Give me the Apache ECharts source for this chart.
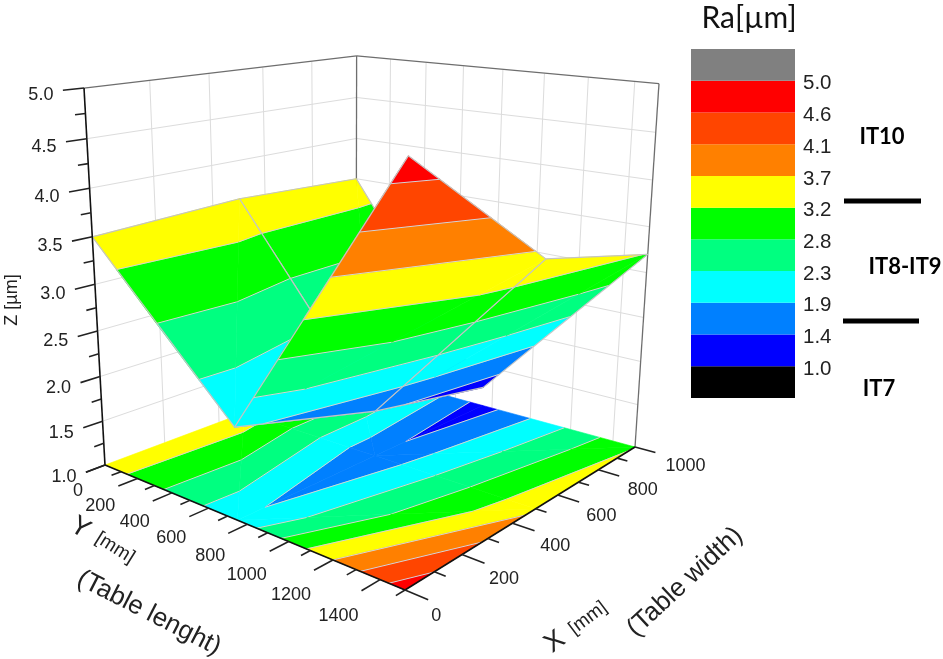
<!DOCTYPE html>
<html><head><meta charset="utf-8">
<style>html,body{margin:0;padding:0;background:#fff}#c{width:943px;height:659px}</style>
<script src="https://cdn.jsdelivr.net/npm/echarts@6/dist/echarts.min.js"></script>
</head><body><div id="c"></div>
<script>
// ---------- data ----------
const xValues = [0, 500, 1000];            // mm, table width
const yValues = [0, 750, 1500];            // mm, table length
const zRow0 = [3.5, 3.57, 3.5];            // Y = 0
const zRow1 = [1.97, 1.52, 1.23];          // Y = 750
const zRow2 = [4.8, 3.56, 3.2];            // Y = 1500
const zRows = [zRow0, zRow1, zRow2];
const bandEdges = [0.556, 1, 1.444, 1.889, 2.333, 2.778, 3.222, 3.667, 4.111, 4.556, 5, 5.444];
const bandColors = ['#000000', '#0000ff', '#0080ff', '#00ffff', '#00ff80', '#00ff00', '#ffff00', '#ff8000', '#ff4500', '#ff0000', '#808080'];
const legendLevels = [1, 1.444, 1.889, 2.333, 2.778, 3.222, 3.667, 4.111, 4.556, 5];
const xMajor = [0, 200, 400, 600, 800, 1000];
const xMinor = [100, 300, 500, 700, 900];
const yMajor = [0, 200, 400, 600, 800, 1000, 1200, 1400];
const yMinor = [100, 300, 500, 700, 900, 1100, 1300, 1500];
const zMajor = [1, 1.5, 2, 2.5, 3, 3.5, 4, 4.5, 5];
const zMinor = [1.25, 1.75, 2.25, 2.75, 3.25, 3.75, 4.25, 4.75];
const xMax = 1000, yMax = 1500, zMin = 1, zMax = 5;

// ---------- camera ----------
const cam = {ox:105, oy:465, ux:339.6, uy:-1.7, vx:214.8, vy:0.86, wx:-27.7, wy:-384, a:0.2488, b:-0.2104, c:-0.0798, sag:12, nearY:15, nearX:3};
function project(X, Y, Z) {
  const u = X / xMax, v = Y / yMax, w = (Z - zMin) / (zMax - zMin);
  const d = 1 + cam.a * u + cam.b * v + cam.c * w;
  return [
    (cam.ox + cam.ux * u + cam.vx * v + cam.wx * w) / d - cam.nearX * (1 - u) * v * w,
    (cam.oy + cam.uy * u + cam.vy * v + cam.wy * w) / d - cam.sag * u * (1 - v) * w + cam.nearY * (1 - u) * v * w
  ];
}

// ---------- contour bands from triangles ----------
function clip(poly, level, keepAbove) {
  const out = [];
  for (let i = 0; i < poly.length; i++) {
    const a = poly[i], b = poly[(i + 1) % poly.length];
    const ia = keepAbove ? a[2] >= level : a[2] <= level;
    const ib = keepAbove ? b[2] >= level : b[2] <= level;
    if (ia) out.push(a);
    if (ia !== ib) {
      const t = (level - a[2]) / (b[2] - a[2]);
      out.push([a[0] + t * (b[0] - a[0]), a[1] + t * (b[1] - a[1]), level]);
    }
  }
  return out;
}
function levelSegment(tri, level) {
  const pts = [];
  for (let i = 0; i < 3; i++) {
    const a = tri[i], b = tri[(i + 1) % 3];
    if ((a[2] < level) !== (b[2] < level)) {
      const t = (level - a[2]) / (b[2] - a[2]);
      pts.push([a[0] + t * (b[0] - a[0]), a[1] + t * (b[1] - a[1]), level]);
    }
  }
  return pts.length === 2 ? pts : null;
}
function triangleMarks(tri, marks) {
  bandColors.forEach((col, k) => {
    let p = clip(tri, bandEdges[k], true);
    if (p.length) p = clip(p, bandEdges[k + 1], false);
    if (p.length >= 3) marks.push({poly: p, color: col});
  });
  legendLevels.forEach(l => {
    const s = levelSegment(tri, l);
    if (s) marks.push({line: s, contour: true});
  });
}
function node(i, j) { return [xValues[i], yValues[j], zRows[j][i]]; }
const surfaceMarks = [], floorMarks = [];
// far cells first; the third entry says which diagonal splits the cell
[[1, 0, 'anti'], [0, 0, 'anti'], [1, 1, 'main'], [0, 1, 'main']].forEach(([i, j, diag]) => {
  const tris = diag === 'anti'
    ? [[node(i, j), node(i + 1, j), node(i, j + 1)], [node(i + 1, j), node(i + 1, j + 1), node(i, j + 1)]]
    : [[node(i, j), node(i + 1, j), node(i + 1, j + 1)], [node(i, j), node(i + 1, j + 1), node(i, j + 1)]];
  tris.forEach(t => { triangleMarks(t, surfaceMarks); triangleMarks(t, floorMarks); });
  surfaceMarks.push({line: [node(i, j), node(i + 1, j)]});
  surfaceMarks.push({line: [node(i, j), node(i, j + 1)]});
  surfaceMarks.push({line: [node(i + 1, j), node(i + 1, j + 1)]});
  surfaceMarks.push({line: [node(i, j + 1), node(i + 1, j + 1)]});
});

// ---------- walls, ticks and labels ----------
const wallLines = [];
xMajor.slice(1, -1).forEach(x => wallLines.push([[x, 0, zMin], [x, 0, zMax]]));
yMajor.slice(1).forEach(y => wallLines.push([[xMax, y, zMin], [xMax, y, zMax]]));
zMajor.slice(1, -1).forEach(z => {
  wallLines.push([[0, 0, z], [xMax, 0, z]]);
  wallLines.push([[xMax, 0, z], [xMax, yMax, z]]);
});
const frameLines = [
  [[0, 0, zMax], [xMax, 0, zMax]], [[xMax, 0, zMax], [xMax, yMax, zMax]],
  [[xMax, 0, zMin], [xMax, 0, zMax]], [[xMax, yMax, zMin], [xMax, yMax, zMax]]
];
const axisLines = [
  [[0, 0, zMin], [0, 0, zMax]], [[0, 0, zMin], [0, yMax, zMin]], [[0, yMax, zMin], [xMax, yMax, zMin]]
];
const majorLenX = 60, minorLenX = 30, majorLenY = 90, minorLenY = 45;
const tickLines = [];
zMajor.forEach(z => tickLines.push([[0, 0, z], [-majorLenX, 0, z]]));
zMinor.forEach(z => tickLines.push([[0, 0, z], [-minorLenX, 0, z]]));
yMajor.forEach(y => tickLines.push([[0, y, zMin], [-majorLenX, y, zMin]]));
yMinor.forEach(y => tickLines.push([[0, y, zMin], [-minorLenX, y, zMin]]));
xMajor.forEach(x => tickLines.push([[x, yMax, zMin], [x, yMax + majorLenY, zMin]]));
xMinor.forEach(x => tickLines.push([[x, yMax, zMin], [x, yMax + minorLenY, zMin]]));

const FONT = 'Liberation Sans';
const tickTexts = [];
zMajor.forEach(z => {
  const p = project(-majorLenX, 0, z);
  tickTexts.push({t: z.toFixed(1), x: p[0] - 22, y: p[1] + 5, s: 18, align: 'center'});
});
yMajor.forEach(y => {
  const p = project(-majorLenX, y, zMin);
  tickTexts.push({t: String(y), x: p[0] - 3, y: p[1] + 19 + 7 * y / yMax, s: 18, align: 'right'});
});
xMajor.forEach(x => {
  const p = project(x, yMax + majorLenY, zMin);
  tickTexts.push({t: String(x), x: p[0] + 3 + 7 * x / xMax, y: p[1] + 16 - 3 * x / xMax, s: 18, align: 'left'});
});
const nameTexts = [
  {t: 'Z [µm]', x: 12, y: 300, s: 18, r: 90},
  {t: 'Y', x: 80, y: 528, s: 27, r: -32},
  {t: '[mm]', x: 115, y: 548, s: 19, r: -32},
  {t: '(Table lenght)', x: 149, y: 613, s: 26, r: -27},
  {t: 'X', x: 555, y: 642, s: 27, r: 37},
  {t: '[mm]', x: 588, y: 618, s: 19, r: 37},
  {t: '(Table width)', x: 685, y: 582, s: 26, r: 43},
  {t: 'Ra[µm]', x: 749, y: 18, s: 30, font: 'Lato', color: '#111'},
  {t: 'IT10', x: 882, y: 137, s: 22, font: 'Lato', bold: true, color: '#000'},
  {t: 'IT8-IT9', x: 905, y: 267, s: 22, font: 'Lato', bold: true, color: '#000'},
  {t: 'IT7', x: 879, y: 389, s: 22, font: 'Lato', bold: true, color: '#000'}
];
const dividerRows = [[844, 921, 201], [843, 919, 321]];

// ---------- helpers ----------
function toPix(api, pt3) { return api.coord(project(pt3[0], pt3[1], pt3[2])); }
function lineShape(api, seg, stroke, width) {
  const a = toPix(api, seg[0]), b = toPix(api, seg[1]);
  return {type: 'line', shape: {x1: a[0], y1: a[1], x2: b[0], y2: b[1]},
          style: {stroke, lineWidth: width}, silent: true};
}
function dataIdx(list) { return list.map((_, i) => [i]); }
function lineSeries(list, stroke, width) {
  return {type: 'custom', coordinateSystem: 'cartesian2d', xAxisIndex: 0, yAxisIndex: 0, silent: true,
    data: dataIdx(list), renderItem: (p, api) => lineShape(api, list[p.dataIndex], stroke, width)};
}
function marksSeries(list, flat) {
  return {type: 'custom', coordinateSystem: 'cartesian2d', xAxisIndex: 0, yAxisIndex: 0, silent: true,
    data: dataIdx(list), renderItem: (p, api) => {
      const m = list[p.dataIndex];
      const lift = pt => flat ? [pt[0], pt[1], zMin] : pt;
      if (m.poly) {
        const pts = m.poly.map(q => toPix(api, lift(q)));
        return {type: 'polygon', shape: {points: pts},
                style: {fill: m.color, stroke: m.color, lineWidth: 0.6}};
      }
      if (flat && !m.contour) return null;
      return lineShape(api, [lift(m.line[0]), lift(m.line[1])], m.contour ? '#d4d4d4' : '#c4c4c4', m.contour ? 1 : 1.2);
    }};
}
function textSeries(list) {
  return {type: 'custom', coordinateSystem: 'cartesian2d', xAxisIndex: 0, yAxisIndex: 0, silent: true,
    data: dataIdx(list), renderItem: (p, api) => {
      const m = list[p.dataIndex];
      const c = api.coord([m.x, m.y]);
      return {type: 'text', x: c[0], y: c[1], rotation: (m.r || 0) * Math.PI / 180,
        style: {text: m.t, x: 0, y: 0, textAlign: m.align || 'center', textVerticalAlign: 'middle',
                fontFamily: m.font || FONT, fontSize: m.s, fontWeight: m.bold ? 'bold' : 'normal',
                fill: m.color || '#222'}};
    }};
}

const chart = echarts.init(document.getElementById('c'), null, {renderer: 'canvas'});
chart.setOption({
  animation: false,
  backgroundColor: '#fff',
  grid: [
    {left: 0, top: 0, width: 943, height: 659},
    {left: 691, top: 49, width: 104, height: 349}
  ],
  xAxis: [
    {type: 'value', min: 0, max: 943, show: false, gridIndex: 0},
    {type: 'value', min: 0, max: 1, show: false, gridIndex: 1}
  ],
  yAxis: [
    {type: 'value', min: 0, max: 659, inverse: true, show: false, gridIndex: 0},
    {type: 'value', gridIndex: 1, min: bandEdges[0], max: bandEdges[bandEdges.length - 1], position: 'right',
     axisLine: {show: false}, axisTick: {show: false}, splitLine: {show: false},
     axisLabel: {customValues: legendLevels, formatter: v => Number(v).toFixed(1), margin: 8, padding: [0, 0, 0, 0],
                 lineHeight: 6, verticalAlign: 'top', fontFamily: FONT, fontSize: 20.5, color: '#222'}}
  ],
  series: [
    lineSeries(wallLines, '#dcdcdc', 1),
    lineSeries(frameLines, '#6e6e6e', 1.3),
    marksSeries(floorMarks, true),
    marksSeries(surfaceMarks, false),
    lineSeries(axisLines, '#111', 1.6),
    lineSeries(tickLines, '#222', 1.6),
    textSeries(tickTexts),
    textSeries(nameTexts),
    {type: 'custom', coordinateSystem: 'cartesian2d', xAxisIndex: 0, yAxisIndex: 0, silent: true,
     data: dividerRows, renderItem: (p, api) => {
       const a = api.coord([api.value(0), api.value(2)]), b = api.coord([api.value(1), api.value(2)]);
       return {type: 'line', shape: {x1: a[0], y1: a[1], x2: b[0], y2: b[1]}, style: {stroke: '#000', lineWidth: 5}};
     }},
    {type: 'custom', coordinateSystem: 'cartesian2d', xAxisIndex: 1, yAxisIndex: 1, silent: true,
     data: bandColors.map((c, i) => [i]), renderItem: (p, api) => {
       const i = p.dataIndex;
       const a = api.coord([0, bandEdges[i + 1]]), b = api.coord([1, bandEdges[i]]);
       return {type: 'rect', shape: {x: a[0], y: a[1], width: b[0] - a[0], height: b[1] - a[1]},
               style: {fill: bandColors[i]}};
     }}
  ]
});
</script></body></html>
